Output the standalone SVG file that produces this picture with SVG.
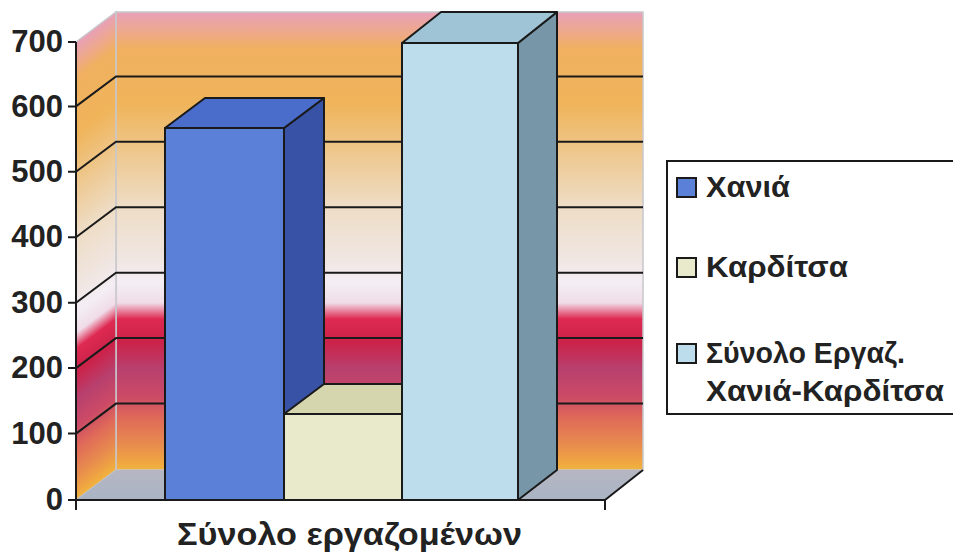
<svg xmlns="http://www.w3.org/2000/svg" xmlns:xlink="http://www.w3.org/1999/xlink" width="953" height="553" viewBox="0 0 953 553">
<style>
  .lbl { font-family: "Liberation Sans", Arial, sans-serif; font-weight: bold; fill: #222; }
  .ax { font-size: 31px; text-anchor: end; }
  .lg { font-size: 29px; }
  .edge { stroke: #1a1a1a; stroke-width: 2; stroke-linejoin: round; }
  .grid { stroke: #1a1a1a; stroke-width: 2; fill: none; }
  .axis { stroke: #1a1a1a; stroke-width: 2; fill: none; }
</style>
<defs>
  <linearGradient id="wallGrad" gradientUnits="userSpaceOnUse" x1="0" y1="12" x2="0" y2="470">
    <stop offset="0" stop-color="#e8a0b8"/>
    <stop offset="0.045" stop-color="#eea98a"/>
    <stop offset="0.08" stop-color="#f0b060"/>
    <stop offset="0.2" stop-color="#f0b45a"/>
    <stop offset="0.3" stop-color="#eec68a"/>
    <stop offset="0.42" stop-color="#eedcc4"/>
    <stop offset="0.54" stop-color="#f0e6e2"/>
    <stop offset="0.59" stop-color="#f4eef4"/>
    <stop offset="0.635" stop-color="#f0dce8"/>
    <stop offset="0.67" stop-color="#de2a52"/>
    <stop offset="0.72" stop-color="#cc2249"/>
    <stop offset="0.78" stop-color="#b8406e"/>
    <stop offset="0.84" stop-color="#cc4a66"/>
    <stop offset="0.89" stop-color="#e06c58"/>
    <stop offset="0.945" stop-color="#e88c4e"/>
    <stop offset="0.985" stop-color="#f0a840"/>
    <stop offset="1" stop-color="#f0b440"/>
  </linearGradient>
  <linearGradient id="sideGrad" xlink:href="#wallGrad" gradientTransform="matrix(1,-0.75,0,1,0,87)"/>
  <linearGradient id="floorGrad" gradientUnits="userSpaceOnUse" x1="0" y1="470" x2="0" y2="500">
    <stop offset="0" stop-color="#b6b6c2"/>
    <stop offset="1" stop-color="#a9b4c4"/>
  </linearGradient>
</defs>
<rect x="0" y="0" width="953" height="553" fill="#ffffff"/>

<g id="walls">
  <polygon points="116,12 643,12 643,470 116,470" fill="url(#wallGrad)" stroke="#c8c8cc" stroke-width="1.5"/>
  <polygon points="76,42 116,12 116,470 76,500" fill="url(#sideGrad)" stroke="#c8c8cc" stroke-width="1.5"/>
  <polygon points="76,500 116,470 643,470 605,500" fill="url(#floorGrad)"/>
  <line x1="605" y1="500" x2="643" y2="470" class="grid"/>
</g>

<g id="gridlines">
  <polyline class="grid" points="76,106.4 116,76.4 643,76.4"/>
  <polyline class="grid" points="76,171.8 116,141.8 643,141.8"/>
  <polyline class="grid" points="76,237.3 116,207.3 643,207.3"/>
  <polyline class="grid" points="76,302.7 116,272.7 643,272.7"/>
  <polyline class="grid" points="76,368.1 116,338.1 643,338.1"/>
  <polyline class="grid" points="76,433.6 116,403.6 643,403.6"/>
</g>

<g id="bar-chania">
  <polygon class="edge" points="284,128 324,98 324,470 284,500" fill="#3852a6"/>
  <polygon class="edge" points="165,128 284,128 324,98 205,98" fill="#4a6dcc"/>
  <rect class="edge" x="165" y="128" width="119" height="372" fill="#5a80d8"/>
</g>

<g id="bar-karditsa">
  <polygon class="edge" points="284,414 402,414 442,384 324,384" fill="#d6d6ae"/>
  <rect class="edge" x="284" y="414" width="118" height="86" fill="#e9e9cc"/>
</g>

<g id="bar-total">
  <polygon class="edge" points="518,43 557,12 557,470 518,500" fill="#7796a8"/>
  <polygon class="edge" points="402,43 518,43 557,12 441,12" fill="#9ec4d6"/>
  <rect class="edge" x="402" y="43" width="116" height="457" fill="#bddcec"/>
</g>

<g id="axes">
  <line class="axis" x1="76" y1="42" x2="76" y2="510"/>
  <line class="axis" x1="76" y1="500" x2="605" y2="500"/>
  <line class="axis" x1="605" y1="500" x2="605" y2="510"/>
  <path class="axis" d="M68,42H76 M68,106.4H76 M68,171.8H76 M68,237.3H76 M68,302.7H76 M68,368.1H76 M68,433.6H76 M68,500H76"/>
  <text class="lbl ax" x="63" y="52">700</text>
  <text class="lbl ax" x="63" y="117">600</text>
  <text class="lbl ax" x="63" y="182">500</text>
  <text class="lbl ax" x="63" y="247">400</text>
  <text class="lbl ax" x="63" y="313">300</text>
  <text class="lbl ax" x="63" y="378">200</text>
  <text class="lbl ax" x="63" y="444">100</text>
  <text class="lbl ax" x="63" y="510">0</text>
  <text class="lbl" x="177" y="545" font-size="31" textLength="345" lengthAdjust="spacingAndGlyphs">Σύνολο εργαζομένων</text>
</g>

<g id="legend">
  <rect x="667" y="161" width="300" height="253" fill="#ffffff" stroke="#1a1a1a" stroke-width="2"/>
  <rect x="677" y="178" width="19" height="19" fill="#5a80d8" stroke="#1a1a1a" stroke-width="2"/>
  <text class="lbl lg" x="706" y="197" textLength="84" lengthAdjust="spacingAndGlyphs">Χανιά</text>
  <rect x="677" y="258" width="19" height="19" fill="#e9e9cc" stroke="#1a1a1a" stroke-width="2"/>
  <text class="lbl lg" x="706" y="277" textLength="142" lengthAdjust="spacingAndGlyphs">Καρδίτσα</text>
  <rect x="677" y="344" width="19" height="19" fill="#bddcec" stroke="#1a1a1a" stroke-width="2"/>
  <text class="lbl lg" x="706" y="363" textLength="199" lengthAdjust="spacingAndGlyphs">Σύνολο Εργαζ.</text>
  <text class="lbl lg" x="706" y="401" textLength="238" lengthAdjust="spacingAndGlyphs">Χανιά-Καρδίτσα</text>
</g>
</svg>
